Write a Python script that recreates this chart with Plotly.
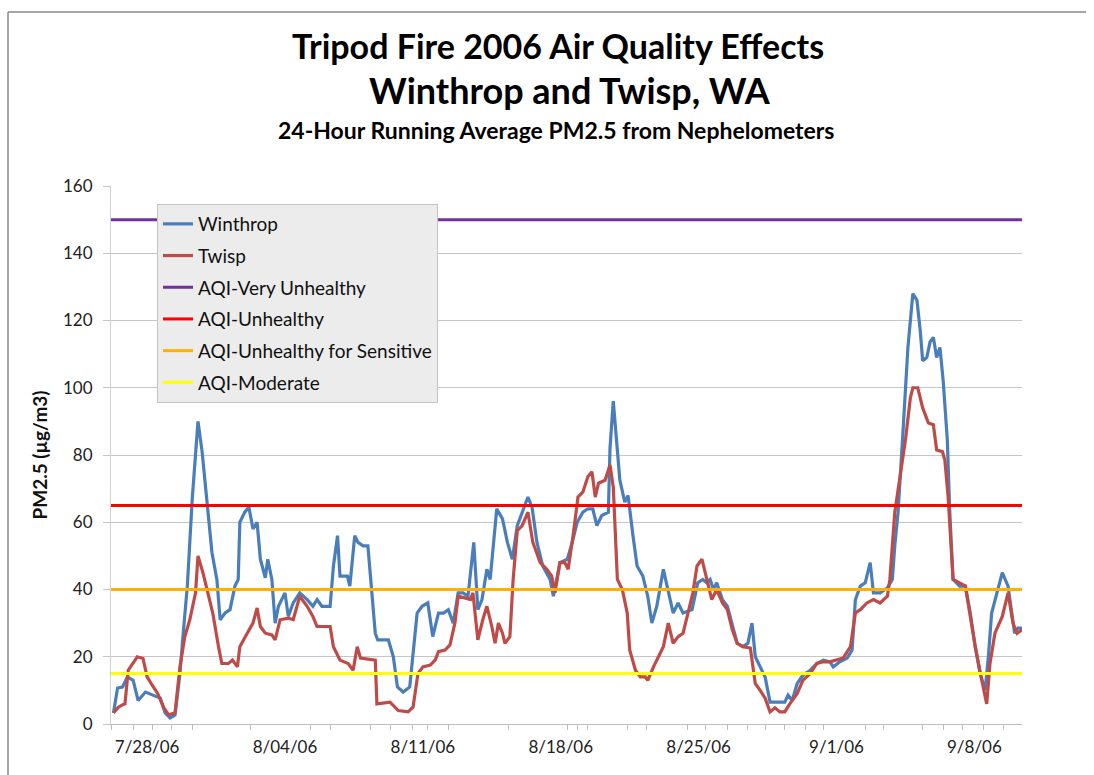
import pandas as pd
import plotly.graph_objects as go

# 24-hour running average PM2.5 (ug/m3); time stamps as hours after 7/26/06 00:00
t0 = pd.Timestamp("2006-07-26 00:00")

winthrop_hours = [7, 12, 18, 24, 31, 37, 46, 55, 64, 70, 76, 82, 88, 92, 97, 103, 107, 110,
                  115, 121, 127, 133, 137, 143, 149, 155, 159, 161, 167, 172, 177, 182, 186,
                  192, 195, 200, 204, 208, 216, 220, 226, 234, 243, 250, 255, 261, 271, 275,
                  280, 283, 292, 295, 301, 305, 311, 317, 322, 326, 329, 342, 348, 353, 360,
                  368, 377, 383, 390, 396, 403, 409, 415, 421, 427, 433, 439, 442, 446, 451,
                  456, 462, 466, 474, 481, 487, 493, 499, 505, 512, 517, 523, 530, 539, 543,
                  548, 551, 560, 566, 572, 579, 585, 591, 596, 602, 610, 612, 616, 621, 624,
                  630, 634, 640, 645, 652, 658, 663, 669, 677, 683, 689, 695, 701, 712, 716,
                  719, 725, 730, 734, 738, 742, 749, 755, 761, 767, 774, 780, 785, 789, 795,
                  801, 807, 817, 825, 829, 834, 840, 847, 856, 864, 872, 880, 884, 892, 901,
                  907, 911, 917, 923, 929, 933, 941, 950, 956, 959, 963, 969, 975, 981, 986,
                  990, 993, 998, 1002, 1006, 1010, 1014, 1018, 1023, 1026, 1030, 1038, 1045,
                  1051, 1057, 1063, 1069, 1073, 1077, 1084, 1090, 1097, 1102, 1105, 1109, 1114]
winthrop_pm25 = [3.3, 10.7, 11, 14, 13, 7, 9.5, 8.6, 7.7, 3.3, 1.8, 2.7, 15, 27, 41, 67, 81, 90,
                 81, 67, 51, 43, 31, 33, 34, 41, 43, 60, 63, 64.5, 58, 60, 49,
                 43.5, 49, 43, 30, 35, 39, 32, 36, 39, 37, 35, 37, 35, 35, 47,
                 56, 44, 44, 41, 56, 54, 53, 53, 39, 27, 25, 25, 20, 11, 9.5,
                 11, 33, 35, 36, 26, 33, 33, 34, 30, 39, 39, 38, 45, 54, 34,
                 37, 46, 43, 64, 61, 54, 49, 59, 63, 67.5, 64.5, 54, 47, 43, 38,
                 44, 48, 49, 54, 60, 63, 64, 64, 59, 62, 63, 82, 96, 82, 72.5,
                 66, 68, 56, 47, 44, 38, 30, 35, 46, 39, 33, 36, 33, 34, 39,
                 42, 43, 42, 43, 40, 42, 37, 35, 29, 24, 23, 24, 30, 20, 17,
                 14, 6.5, 6.5, 6.5, 8.6, 7, 12, 14.5, 16, 18, 19, 18.5, 17, 18.5, 19.6,
                 22, 37, 41, 42, 48, 39, 39, 40.5, 43, 53, 63, 87, 112, 128, 126,
                 117, 108, 109, 113.6, 115, 109, 112, 102, 84.5, 63, 43, 41, 41,
                 33, 23, 15, 10, 20, 33, 40, 45, 41, 33, 27, 28.5, 28.5]

twisp_hours = [7, 13, 18, 21, 25, 31, 36, 43, 48, 54, 61, 68, 74, 82, 88, 94, 100, 107, 110,
               116, 122, 128, 135, 139, 147, 152, 158, 161, 170, 177, 182, 186, 192, 200,
               204, 210, 220, 226, 234, 243, 250, 255, 271, 275, 283, 293, 299, 304, 308,
               326, 328, 344, 354, 366, 372, 378, 384, 393, 399, 403, 411, 417, 423, 427,
               435, 442, 445, 451, 457, 462, 468, 472, 476, 481, 484, 490, 494, 499, 505,
               512, 518, 527, 535, 541, 545, 551, 557, 561, 567, 573, 579, 585, 590, 594,
               598, 606, 612, 616, 621, 627, 633, 636, 643, 649, 655, 658, 665, 671, 677,
               683, 689, 695, 701, 707, 713, 718, 724, 730, 736, 742, 749, 755, 761, 767,
               774, 783, 789, 795, 801, 807, 813, 819, 825, 831, 840, 847, 856, 864, 872,
               880, 889, 896, 905, 911, 917, 925, 933, 941, 950, 953, 959, 965, 972, 978,
               981, 987, 993, 1000, 1006, 1010, 1017, 1020, 1024, 1030, 1038, 1045, 1051,
               1057, 1065, 1071, 1075, 1081, 1090, 1097, 1103, 1108, 1114]
twisp_pm25 = [3.3, 5, 5.7, 6, 16, 18, 20, 19.5, 14, 11.6, 9, 5, 2.7, 3.3, 17, 26, 31, 39, 50,
              45, 39, 33, 23, 18, 18, 19, 17, 23, 27, 30, 34.5, 29, 27, 26.5,
              25, 31, 31.5, 31, 38, 35, 32, 29, 29, 23, 19, 18, 16, 23, 19.6,
              19, 6, 6.5, 4, 3.6, 5, 15, 17, 17.5, 19, 21.5, 22, 23.5, 30, 38,
              37.5, 37, 39, 25, 31, 35, 29, 24, 30, 27, 24, 26, 43, 57.5, 59,
              63, 54, 48, 46, 44, 39, 48, 48, 46, 56, 67.5, 69, 73.5, 75, 67.5,
              71.6, 72.5, 77, 70.5, 43, 40, 33, 22, 16, 14, 14, 13, 17, 20, 23,
              30, 24, 26, 27, 33, 39, 47, 49, 43, 37, 40, 36, 34, 28, 24,
              23, 22.6, 12, 10, 7.7, 3.6, 4.8, 3.6, 3.6, 6, 9, 13, 15, 18, 18.5,
              18.5, 19, 19.6, 23, 33, 34, 36, 37, 36, 38, 43, 63, 72.5, 84.5, 97,
              100, 100, 94, 89.5, 89, 81.5, 81, 78.5, 67.5, 43, 42, 41, 32,
              23, 13, 6, 18, 27, 32, 39, 30, 27, 28]

# AQI category breakpoints for 24-hour PM2.5
aqi_names = ["AQI-Very Unhealthy", "AQI-Unhealthy", "AQI-Unhealthy for Sensitive", "AQI-Moderate"]
aqi_levels = [150, 65, 40, 15]
aqi_colors = ["#7030a0", "#ff0000", "#ffb000", "#ffff00"]

tick_dates = ["2006-07-28", "2006-08-04", "2006-08-11", "2006-08-18",
              "2006-08-25", "2006-09-01", "2006-09-08"]
tick_labels = ["7/28/06", "8/04/06", "8/11/06", "8/18/06", "8/25/06", "9/1/06", "9/8/06"]

# small category ticks along the time axis (hours after t0)
minor_tick_hours = [5, 31, 54, 78, 103, 174, 247, 271, 320, 344, 371, 390, 415, 488, 560,
                    573, 584, 633, 657, 706, 728, 755, 779, 801, 825, 850, 872, 923, 945,
                    993, 1018, 1042, 1067, 1091]

x_start = t0 + pd.Timedelta(hours=4)
x_end = t0 + pd.Timedelta(hours=1114)


def to_time(hours):
    return t0 + pd.to_timedelta(hours, unit="h")


FONT = "Lato, 'Open Sans', sans-serif"
TITLE_FONT = "Lato, sans-serif"

fig = go.Figure()

fig.add_trace(go.Scatter(x=to_time(winthrop_hours), y=winthrop_pm25, mode="lines",
                         name="Winthrop", legendgroup="w",
                         line=dict(color="#4a7ebb", width=3.2)))
fig.add_trace(go.Scatter(x=to_time(twisp_hours), y=twisp_pm25, mode="lines",
                         name="Twisp", legendgroup="t",
                         line=dict(color="#be4b48", width=3.2)))
for i, (name, level, color) in enumerate(zip(aqi_names, aqi_levels, aqi_colors)):
    fig.add_trace(go.Scatter(x=[x_start, x_end], y=[level, level], mode="lines",
                             name=name, legendgroup=f"aqi{i}",
                             line=dict(color=color, width=3)))

W, H = 1094, 775
ml, mr, mt, mb = 111, 72, 186, 51
pw, ph = W - ml - mr, H - mt - mb


def px(x):
    return (x - ml) / pw


def py(y):
    return (H - mb - y) / ph


fig.update_layout(
    width=W, height=H,
    margin=dict(l=ml, r=mr, t=mt, b=mb),
    paper_bgcolor="white", plot_bgcolor="white",
    showlegend=True,
    legend=dict(x=px(157), y=py(204), xanchor="left", yanchor="top",
                bgcolor="#ececec", bordercolor="#c4c4c4", borderwidth=1,
                font=dict(family=FONT, size=19, color="#111111"),
                tracegroupgap=4, traceorder="grouped", itemwidth=30),
    font=dict(family=FONT, color="#333333"),
)

fig.update_xaxes(
    type="date", range=[x_start, x_end],
    tickmode="array", tickvals=pd.to_datetime(tick_dates), ticktext=tick_labels,
    ticks="", showgrid=False, showline=True, linecolor="#bdbdbd", linewidth=1,
    tickfont=dict(family=FONT, size=17, color="#222222"),
    ticklabelstandoff=8,
    minor=dict(tickmode="array", tickvals=to_time(minor_tick_hours),
               ticks="outside", ticklen=5, tickcolor="#bdbdbd", showgrid=False),
    zeroline=False,
)
fig.update_yaxes(
    range=[0, 160], tickmode="array", tickvals=list(range(0, 161, 20)),
    showgrid=True, gridcolor="#c6c6c6", gridwidth=1,
    showline=True, linecolor="#d0d0d0", linewidth=1,
    ticks="outside", ticklen=7, tickcolor="#c6c6c6",
    tickfont=dict(family=FONT, size=17, color="#222222"),
    ticklabelstandoff=7,
    zeroline=False,
    title=dict(text="<b>PM2.5 (µg/m3)</b>", font=dict(family=FONT, size=19, color="#111111"),
               standoff=10),
)

# chart title block
titles = [
    ("<b>Tripod Fire 2006 Air Quality Effects</b>", 558, 45, 34),
    ("<b>Winthrop and Twisp, WA</b>", 570, 90, 36),
    ("<b>24-Hour Running Average PM2.5 from Nephelometers</b>", 556, 130, 23),
]
for text, xc, yc, size in titles:
    fig.add_annotation(text=text, xref="paper", yref="paper", x=px(xc), y=py(yc),
                       xanchor="center", yanchor="middle", showarrow=False,
                       font=dict(family=TITLE_FONT, size=size, color="#000000"))

# outer chart frame (top and left edges)
frame = dict(color="#8a8a8a", width=1.5)
fig.add_shape(type="line", xref="paper", yref="paper",
              x0=px(8), y0=py(12), x1=px(1086), y1=py(12), line=frame, layer="below")
fig.add_shape(type="line", xref="paper", yref="paper",
              x0=px(8), y0=py(12), x1=px(8), y1=py(H), line=frame, layer="below")

fig.write_html("out.html")
